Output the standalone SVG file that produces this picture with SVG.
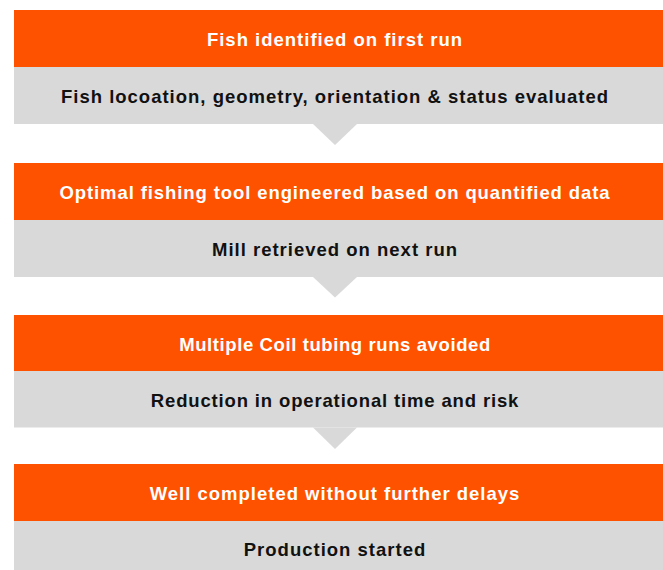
<svg xmlns="http://www.w3.org/2000/svg" width="663" height="570" viewBox="0 0 663 570">
<style>
.hd{fill:#FF5200}
.bd{fill:#D9D9D9}
.arr{fill:#D9D9D9}
text{font-family:"Liberation Sans",Arial,sans-serif;font-weight:bold;font-size:18.5px;letter-spacing:1px;text-anchor:middle}
.wt{fill:#FFFFFF}
.dk{fill:#111111}
</style>
<rect width="663" height="570" fill="#FFFFFF"/>
<g id="connectors">
<polygon class="arr" points="313,124 357,124 335,145"/>
<polygon class="arr" points="313,277 357,277 335,297.5"/>
<polygon class="arr" points="313,427.5 357,427.5 335,449"/>
</g>
<g id="step1">
<rect class="hd" x="14" y="10" width="649" height="57"/>
<text class="wt" x="335" y="46">Fish identified on first run</text>
<rect class="bd" x="14" y="67" width="649" height="57"/>
<text class="dk" x="335" y="102.5">Fish locoation, geometry, orientation &amp; status evaluated</text>
</g>
<g id="step2">
<rect class="hd" x="14" y="163" width="649" height="57"/>
<text class="wt" x="335" y="199" style="letter-spacing:0.9px">Optimal fishing tool engineered based on quantified data</text>
<rect class="bd" x="14" y="220" width="649" height="57"/>
<text class="dk" x="335" y="255.5">Mill retrieved on next run</text>
</g>
<g id="step3">
<rect class="hd" x="14" y="315" width="649" height="56"/>
<text class="wt" x="335" y="351" style="letter-spacing:0.6px">Multiple Coil tubing runs avoided</text>
<rect class="bd" x="14" y="371" width="649" height="56.5"/>
<text class="dk" x="335" y="406.5" style="letter-spacing:0.85px">Reduction in operational time and risk</text>
</g>
<g id="step4">
<rect class="hd" x="14" y="464" width="649" height="57"/>
<text class="wt" x="335" y="500">Well completed without further delays</text>
<rect class="bd" x="14" y="521" width="649" height="49"/>
<text class="dk" x="335" y="556">Production started</text>
</g>
</svg>
